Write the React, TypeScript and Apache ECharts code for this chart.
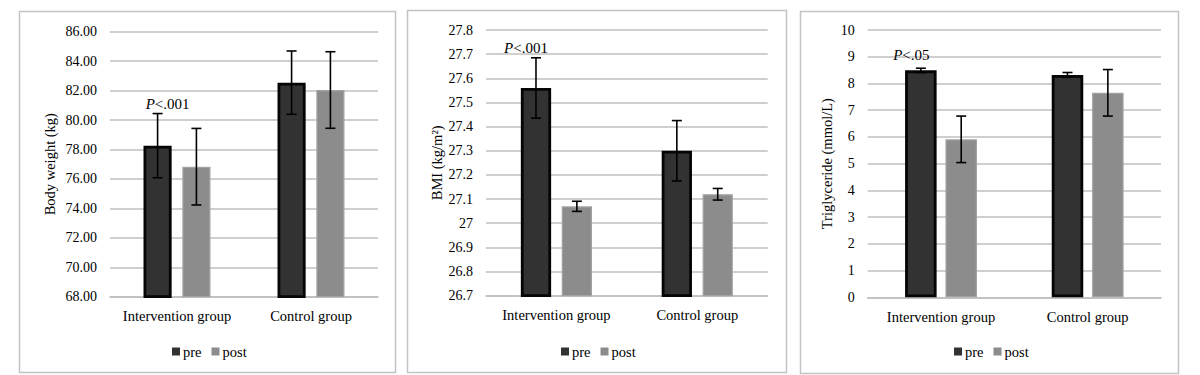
import React, { useEffect, useRef } from "react";
import * as echarts from "echarts";

const categories = ["Intervention group", "Control group"];
const seriesNames = ["pre", "post"];

const weightPre = [78.26, 82.54];
const weightPreSd = [2.18, 2.15];
const weightPost = [76.83, 82.04];
const weightPostSd = [2.6, 2.6];

const bmiPre = [27.56, 27.3];
const bmiPreSd = [0.125, 0.125];
const bmiPost = [27.07, 27.12];
const bmiPostSd = [0.021, 0.024];

const tgPre = [8.49, 8.32];
const tgPreSd = [0.08, 0.09];
const tgPost = [5.91, 7.65];
const tgPostSd = [0.87, 0.87];

const pLabels = ["<.001", "<.001", "<.05"];
const pLabelValues = [81.12, 27.727, 9.06];

const FONT = "'Liberation Serif', 'Times New Roman', Times, serif";
const GRID_COLOR = "#bfbfbf";
const PRE_COLOR = "#323232";
const POST_COLOR = "#8c8c8c";

const panels = [
  {
    title: "Body weight (kg)",
    pre: weightPre, preSd: weightPreSd, post: weightPost, postSd: weightPostSd,
    min: 68, max: 86, interval: 2, fmt: (v: number) => v.toFixed(2),
    grid: { left: 110, right: 822, top: 31.7, bottom: 78.3 },
    nameGap: 53, barPct: 0.21, gap: 0.38, pDx: 10, legendLeft: 167,
    border: { x: 19.5, y: 11.5, w: 376, h: 361 },
  },
  {
    title: "BMI (kg/m²)",
    pre: bmiPre, preSd: bmiPreSd, post: bmiPost, postSd: bmiPostSd,
    min: 26.7, max: 27.8, interval: 0.1, fmt: (v: number) => String(Math.round(v * 10) / 10),
    grid: { left: 486, right: 432.3, top: 30, bottom: 79.3 },
    nameGap: 42, barPct: 0.215, gap: 0.35, pDx: -10, legendLeft: 556,
    border: { x: 407.5, y: 10.5, w: 379, h: 362 },
  },
  {
    title: "Triglyceride (mmol/L)",
    pre: tgPre, preSd: tgPreSd, post: tgPost, postSd: tgPostSd,
    min: 0, max: 10, interval: 1, fmt: (v: number) => String(Math.round(v)),
    grid: { left: 867.7, right: 39, top: 30, bottom: 77.7 },
    nameGap: 33, barPct: 0.215, gap: 0.28, pDx: -9.5, legendLeft: 949,
    border: { x: 800.5, y: 11.5, w: 378, h: 362 },
  },
];

function buildOption() {
  const grid: any[] = [];
  const xAxis: any[] = [];
  const yAxis: any[] = [];
  const series: any[] = [];
  const legend: any[] = [];
  const graphic: any[] = [];

  panels.forEach((p, i) => {
    grid.push({ ...p.grid, containLabel: false });
    xAxis.push({
      type: "category",
      gridIndex: i,
      data: categories,
      axisTick: { show: false },
      axisLine: { show: true, lineStyle: { color: GRID_COLOR, width: 1.5 } },
      axisLabel: { color: "#000", fontFamily: FONT, fontSize: 14.5, margin: 12, interval: 0 },
    });
    yAxis.push({
      type: "value",
      gridIndex: i,
      min: p.min,
      max: p.max,
      interval: p.interval,
      name: p.title,
      nameLocation: "middle",
      nameGap: p.nameGap,
      nameRotate: 90,
      nameTextStyle: { color: "#000", fontFamily: FONT, fontSize: 14.5 },
      axisLine: { show: false },
      axisTick: { show: false },
      splitLine: { lineStyle: { color: GRID_COLOR, width: 1.5 } },
      axisLabel: {
        color: "#000",
        fontFamily: FONT,
        fontSize: 14,
        margin: 13,
        formatter: p.fmt,
      },
    });
    series.push({
      type: "bar",
      name: seriesNames[0],
      xAxisIndex: i,
      yAxisIndex: i,
      data: p.pre,
      barWidth: (p.barPct * 100).toFixed(1) + "%",
      itemStyle: { color: PRE_COLOR, borderColor: "#050505", borderWidth: 2.8 },
    });
    series.push({
      type: "bar",
      name: seriesNames[1],
      xAxisIndex: i,
      yAxisIndex: i,
      data: p.post,
      barWidth: (p.barPct * 100).toFixed(1) + "%",
      barGap: Math.round(p.gap * 100) + "%",
      itemStyle: { color: POST_COLOR, borderColor: "#a3a3a3", borderWidth: 1.2 },
    });
    const errData: any[] = [];
    p.pre.forEach((m, k) => errData.push([k, m, p.preSd[k], 0]));
    p.post.forEach((m, k) => errData.push([k, m, p.postSd[k], 1]));
    const barPct = p.barPct;
    const gap = p.gap;
    series.push({
      type: "custom",
      xAxisIndex: i,
      yAxisIndex: i,
      z: 10,
      encode: { x: 0, y: 1 },
      data: errData,
      renderItem: (params: any, api: any) => {
        const cat = api.value(0);
        const mean = api.value(1);
        const sd = api.value(2);
        const pos = api.value(3);
        const band = api.size([1, 0])[0];
        const w = band * barPct;
        const off = ((w * (1 + gap)) / 2) * (pos === 0 ? -1 : 1);
        const c = api.coord([cat, mean]);
        const x = c[0] + off;
        const top = api.coord([cat, mean + sd])[1];
        const bot = api.coord([cat, mean - sd])[1];
        const cap = 5;
        const st = { stroke: "#000", lineWidth: 1.6 };
        return {
          type: "group",
          children: [
            { type: "line", shape: { x1: x, y1: top, x2: x, y2: bot }, style: st },
            { type: "line", shape: { x1: x - cap, y1: top, x2: x + cap, y2: top }, style: st },
            { type: "line", shape: { x1: x - cap, y1: bot, x2: x + cap, y2: bot }, style: st },
          ],
        };
      },
    });
    const pDx = p.pDx;
    series.push({
      type: "custom",
      xAxisIndex: i,
      yAxisIndex: i,
      z: 11,
      encode: { x: 0, y: 1 },
      data: [[0, pLabelValues[i]]],
      renderItem: (params: any, api: any) => {
        const band = api.size([1, 0])[0];
        const w = band * barPct;
        const off = -((w * (1 + gap)) / 2);
        const c = api.coord([api.value(0), api.value(1)]);
        return {
          type: "text",
          style: {
            x: c[0] + off + pDx,
            y: c[1],
            text: "{i|P}" + pLabels[i],
            align: "center",
            verticalAlign: "middle",
            fontFamily: FONT,
            fontSize: 15,
            fill: "#000",
            rich: {
              i: { fontStyle: "italic", fontFamily: FONT, fontSize: 15, fill: "#000", color: "#000" },
            },
          },
        };
      },
    });
    legend.push({
      data: seriesNames,
      left: p.legendLeft,
      top: 339,
      icon: "rect",
      itemWidth: 8,
      itemHeight: 8,
      itemGap: 10,
      selectedMode: false,
      itemStyle: { borderWidth: 0 },
      textStyle: { color: "#000", fontFamily: FONT, fontSize: 14.5, padding: [0, 0, 0, -2] },
    });
    graphic.push({
      type: "rect",
      shape: { x: p.border.x, y: p.border.y, width: p.border.w, height: p.border.h },
      style: { fill: "none", stroke: "#c4c4c4", lineWidth: 1.5 },
      silent: true,
      z: -1,
    });
  });

  return {
    animation: false,
    backgroundColor: "#fff",
    textStyle: { fontFamily: FONT },
    grid,
    xAxis,
    yAxis,
    series,
    legend,
    graphic,
  };
}

export default function App() {
  const ref = useRef<HTMLDivElement>(null);
  useEffect(() => {
    if (!ref.current) return;
    const chart = echarts.init(ref.current, null, { renderer: "svg" });
    chart.setOption(buildOption() as any);
    return () => chart.dispose();
  }, []);
  return (
    <div
      ref={ref}
      style={{ position: "fixed", left: 0, top: 0, width: 1200, height: 375, background: "#fff" }}
    />
  );
}
